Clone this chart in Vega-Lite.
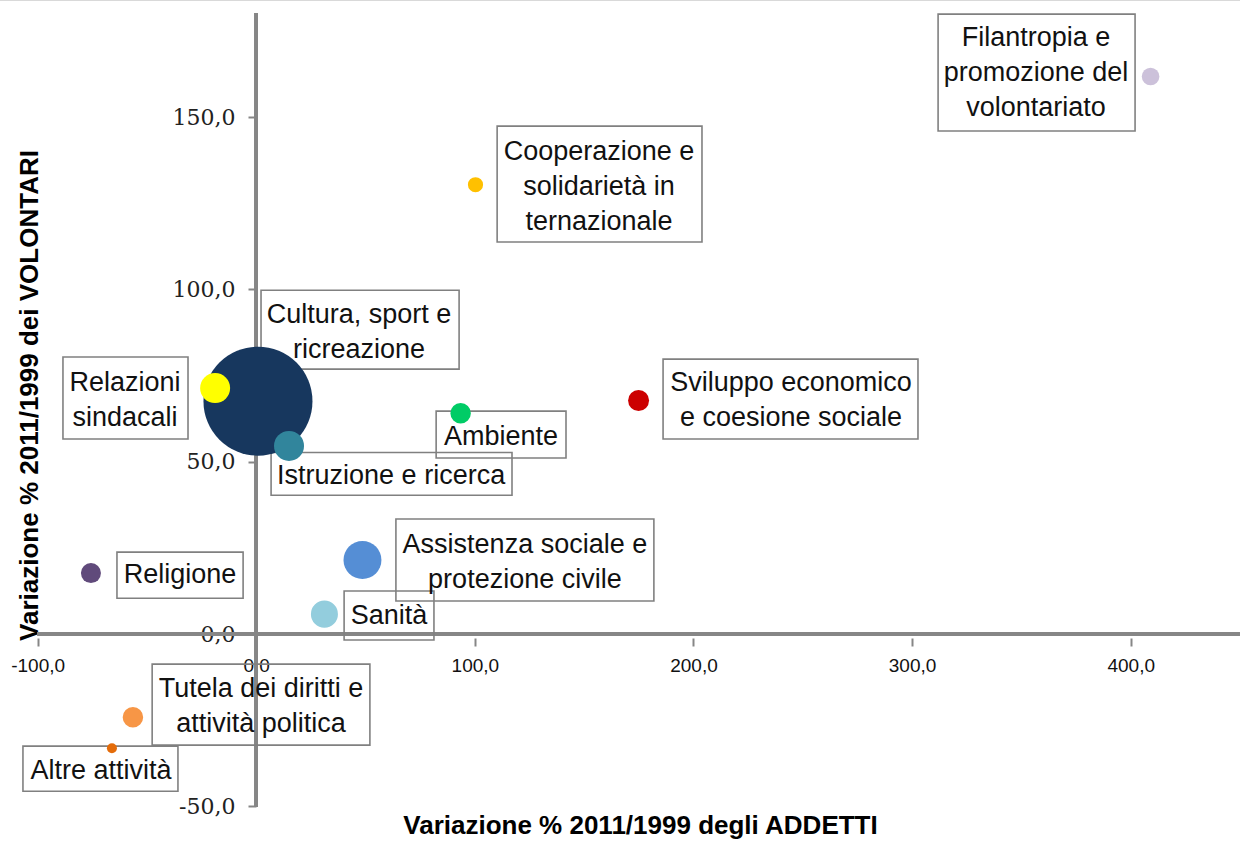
{
  "$schema": "https://vega.github.io/schema/vega-lite/v6.json",
  "width": 1240,
  "height": 844,
  "padding": 0,
  "autosize": {"type": "none"},
  "background": "white",
  "config": {"view": {"stroke": null}},
  "data": {
    "values": [
      {"settore": "Cultura, sport e ricreazione", "addetti": 0.8, "volontari": 67.6, "peso": 118.8, "label": "Cultura,  sport e\nricreazione", "lx": 47.0, "ly": 92.6, "bx1": 2.2, "bx2": 92.8, "by1": 99.8, "by2": 76.9},
      {"settore": "Relazioni sindacali", "addetti": -18.8, "volontari": 71.4, "peso": 9.0, "label": "Relazioni\nsindacali", "lx": -60.0, "ly": 72.8, "bx1": -88.4, "bx2": -31.2, "by1": 80.4, "by2": 56.6},
      {"settore": "Istruzione e ricerca", "addetti": 15.0, "volontari": 54.6, "peso": 9.0, "label": "Istruzione e ricerca", "lx": 61.7, "ly": 45.9, "bx1": 6.8, "bx2": 117.0, "by1": 52.7, "by2": 40.3},
      {"settore": "Ambiente", "addetti": 93.5, "volontari": 64.1, "peso": 4.2, "label": "Ambiente", "lx": 112.0, "ly": 57.2, "bx1": 82.3, "bx2": 141.7, "by1": 64.7, "by2": 51.1},
      {"settore": "Sviluppo economico e coesione sociale", "addetti": 174.9, "volontari": 67.8, "peso": 4.4, "label": "Sviluppo economico\ne coesione sociale", "lx": 244.6, "ly": 72.8, "bx1": 186.1, "bx2": 302.7, "by1": 79.8, "by2": 56.6},
      {"settore": "Religione", "addetti": -75.6, "volontari": 17.7, "peso": 4.0, "label": "Religione", "lx": -34.9, "ly": 17.1, "bx1": -63.7, "bx2": -6.0, "by1": 23.8, "by2": 10.4},
      {"settore": "Assistenza sociale e protezione civile", "addetti": 48.6, "volontari": 21.5, "peso": 14.4, "label": "Assistenza sociale e\nprotezione civile", "lx": 122.9, "ly": 25.8, "bx1": 63.9, "bx2": 181.9, "by1": 33.4, "by2": 9.6},
      {"settore": "Sanità", "addetti": 31.2, "volontari": 5.8, "peso": 7.3, "label": "Sanità", "lx": 60.7, "ly": 5.2, "bx1": 40.2, "bx2": 81.3, "by1": 12.5, "by2": -1.7},
      {"settore": "Tutela dei diritti e attività politica", "addetti": -56.4, "volontari": -24.1, "peso": 4.2, "label": "Tutela dei diritti e\nattività politica", "lx": 2.2, "ly": -16.0, "bx1": -47.6, "bx2": 52.0, "by1": -8.7, "by2": -32.2},
      {"settore": "Altre attività", "addetti": -66.0, "volontari": -33.1, "peso": 1.0, "label": "Altre attività", "lx": -71.0, "ly": -39.8, "bx1": -106.7, "bx2": -35.8, "by1": -32.5, "by2": -45.6},
      {"settore": "Cooperazione e solidarietà internazionale", "addetti": 100.3, "volontari": 130.4, "peso": 2.3, "label": "Cooperazione e\nsolidarietà in\nternazionale", "lx": 156.8, "ly": 139.9, "bx1": 110.2, "bx2": 203.9, "by1": 147.4, "by2": 113.8},
      {"settore": "Filantropia e promozione del volontariato", "addetti": 409.1, "volontari": 161.8, "peso": 3.1, "label": "Filantropia e\npromozione del\nvolontariato", "lx": 356.7, "ly": 173.0, "bx1": 311.9, "bx2": 402.0, "by1": 179.9, "by2": 146.0}
    ]
  },
  "layer": [
    {
      "mark": {"type": "rule", "color": "#d9d9d9", "strokeWidth": 2},
      "encoding": {
        "y": {"datum": 184, "type": "quantitative", "scale": {"domain": [-60.9, 184], "nice": false, "zero": false}, "title": "Variazione % 2011/1999 dei VOLONTARI"}
      }
    },
    {
      "mark": {"type": "rule", "color": "#868686", "strokeWidth": 3},
      "encoding": {
        "x": {"datum": -100, "type": "quantitative", "scale": {"domain": [-117.2, 450], "nice": false, "zero": false}, "title": "Variazione % 2011/1999  degli ADDETTI"},
        "x2": {"datum": 450},
        "y": {"datum": 0, "type": "quantitative", "scale": {"domain": [-60.9, 184], "nice": false, "zero": false}, "title": "Variazione % 2011/1999 dei VOLONTARI"}
      }
    },
    {
      "mark": {"type": "rule", "color": "#868686", "strokeWidth": 3},
      "encoding": {
        "x": {"datum": 0, "type": "quantitative", "scale": {"domain": [-117.2, 450], "nice": false, "zero": false}, "title": "Variazione % 2011/1999  degli ADDETTI"},
        "y": {"datum": -50, "type": "quantitative", "scale": {"domain": [-60.9, 184], "nice": false, "zero": false}, "title": "Variazione % 2011/1999 dei VOLONTARI"},
        "y2": {"datum": 180.2}
      }
    },
    {
      "mark": {"type": "rect", "filled": false, "stroke": "#808080", "strokeWidth": 1.6},
      "encoding": {
        "x": {"field": "bx1", "type": "quantitative", "scale": {"domain": [-117.2, 450], "nice": false, "zero": false}, "title": "Variazione % 2011/1999  degli ADDETTI"},
        "x2": {"field": "bx2"},
        "y": {"field": "by1", "type": "quantitative", "scale": {"domain": [-60.9, 184], "nice": false, "zero": false}, "title": "Variazione % 2011/1999 dei VOLONTARI"},
        "y2": {"field": "by2"}
      }
    },
    {
      "mark": {"type": "text", "font": "Liberation Sans", "fontSize": 27, "lineBreak": "\n", "lineHeight": 35, "align": "center", "baseline": "middle", "color": "#111111"},
      "encoding": {
        "x": {"field": "lx", "type": "quantitative", "scale": {"domain": [-117.2, 450], "nice": false, "zero": false}, "title": "Variazione % 2011/1999  degli ADDETTI"},
        "y": {"field": "ly", "type": "quantitative", "scale": {"domain": [-60.9, 184], "nice": false, "zero": false}, "title": "Variazione % 2011/1999 dei VOLONTARI"},
        "text": {"field": "label"}
      }
    },
    {
      "mark": {"type": "circle", "opacity": 1},
      "encoding": {
        "x": {
          "field": "addetti", "type": "quantitative",
          "scale": {"domain": [-117.2, 450], "nice": false, "zero": false},
          "title": "Variazione % 2011/1999  degli ADDETTI",
          "axis": {
            "values": [-100, 0, 100, 200, 300, 400],
            "offset": -206,
            "domain": false, "grid": false,
            "tickSize": 8, "tickColor": "#868686", "tickWidth": 2,
            "labelFont": "Liberation Sans", "labelFontSize": 19, "labelColor": "#111111",
            "labelPadding": 10, "labelFlush": false, "labelOverlap": false,
            "labelExpr": "replace(replace(format(datum.value, '.1f'), '.', ','), '\u2212', '-')",
            "titleFont": "Liberation Sans", "titleFontSize": 26, "titleFontWeight": "bold", "titleColor": "#000000",
            "titleX": 640, "titleY": 195, "titleAlign": "center", "titleBaseline": "alphabetic"
          }
        },
        "y": {
          "field": "volontari", "type": "quantitative",
          "scale": {"domain": [-60.9, 184], "nice": false, "zero": false},
          "title": "Variazione % 2011/1999 dei VOLONTARI",
          "axis": {
            "values": [-50, 0, 50, 100, 150],
            "offset": -256,
            "domain": false, "grid": false,
            "tickSize": 8, "tickColor": "#868686", "tickWidth": 2,
            "labelFont": "DejaVu Serif", "labelFontSize": 22, "labelColor": "#222222",
            "labelPadding": 13, "labelFlush": false, "labelOverlap": false,
            "labelExpr": "replace(replace(format(datum.value, '.1f'), '.', ','), '\u2212', '-')",
            "titleFont": "Liberation Sans", "titleFontSize": 26, "titleFontWeight": "bold", "titleColor": "#000000",
            "titleAngle": -90, "titleX": -219, "titleY": 395, "titleAlign": "center", "titleBaseline": "alphabetic"
          }
        },
        "size": {"field": "peso", "type": "quantitative", "scale": {"type": "linear", "zero": true, "domain": [0, 118.8], "range": [0, 11880]}, "legend": null},
        "color": {
          "field": "settore", "type": "nominal", "legend": null,
          "scale": {
            "domain": ["Cultura, sport e ricreazione", "Relazioni sindacali", "Istruzione e ricerca", "Ambiente", "Sviluppo economico e coesione sociale", "Religione", "Assistenza sociale e protezione civile", "Sanità", "Tutela dei diritti e attività politica", "Altre attività", "Cooperazione e solidarietà internazionale", "Filantropia e promozione del volontariato"],
            "range": ["#17375E", "#FFFF00", "#31859C", "#00CC66", "#CC0000", "#604A7B", "#558ED5", "#93CDDD", "#F79646", "#E46C0A", "#FFC000", "#CCC1DA"]
          }
        }
      }
    }
  ]
}
